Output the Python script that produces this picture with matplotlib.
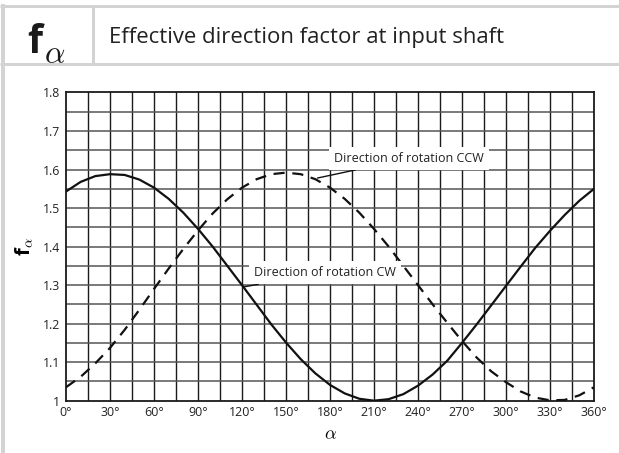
import numpy as np
import matplotlib
matplotlib.use('Agg')
import matplotlib.pyplot as plt
from matplotlib.lines import Line2D

plt.rcParams['font.family'] = ['Open Sans', 'DejaVu Sans']
plt.rcParams['mathtext.fontset'] = 'cm'

# angle in degrees
alpha = [0, 10, 20, 30, 40, 50, 60, 70, 80, 90, 100, 110, 120, 130, 140, 150, 160, 170, 180,
         190, 200, 210, 220, 230, 240, 250, 260, 270, 280, 290, 300, 310, 320, 330, 340, 350, 360]
# direction of rotation CW (solid)
f_cw = [1.543, 1.568, 1.583, 1.588, 1.586, 1.574, 1.553, 1.524, 1.488, 1.446, 1.400, 1.350, 1.300,
        1.249, 1.198, 1.151, 1.108, 1.071, 1.041, 1.019, 1.005, 1.000, 1.004, 1.017, 1.039, 1.068,
        1.104, 1.150, 1.198, 1.248, 1.298, 1.348, 1.397, 1.441, 1.482, 1.519, 1.550]
# direction of rotation CCW (dashed)
f_ccw = [1.035, 1.062, 1.097, 1.137, 1.184, 1.236, 1.290, 1.343, 1.394, 1.442, 1.486, 1.523, 1.553,
         1.575, 1.588, 1.592, 1.588, 1.575, 1.553, 1.524, 1.488, 1.446, 1.400, 1.350, 1.300, 1.250,
         1.202, 1.155, 1.112, 1.076, 1.048, 1.024, 1.008, 1.001, 1.002, 1.014, 1.035]

xticks = list(range(0, 361, 30))
xtick_labels = [f'{t}°' for t in xticks]
yticks = [1.0, 1.1, 1.2, 1.3, 1.4, 1.5, 1.6, 1.7, 1.8]
ytick_labels = ['1', '1.1', '1.2', '1.3', '1.4', '1.5', '1.6', '1.7', '1.8']

W, H = 619, 453
fig = plt.figure(figsize=(W / 100, H / 100), dpi=100)


def px(x, y):
    return x / W, 1 - y / H


# frame / header in light grey
grey = '#d3d3d3'
for (x0, y0, x1, y1, lw) in [(0, 5.5, W, 5.5, 3), (0, 64, W, 64, 3),
                             (92.5, 5, 92.5, 64, 3), (3, 4, 3, H, 4)]:
    a, b = px(x0, y0)
    c, d = px(x1, y1)
    fig.add_artist(Line2D([a, c], [b, d], color=grey, lw=lw * 0.72, solid_capstyle='butt'))

fig.text(*px(27, 53), 'f', fontsize=28, fontweight='bold', color='#1a1a1a', va='baseline', ha='left')
fig.text(*px(44, 63), r'$\alpha$', fontsize=23, color='#1a1a1a', va='baseline', ha='left')
fig.text(*px(109, 37), 'Effective direction factor at input shaft', fontsize=15.9,
         color='#222222', va='center', ha='left')

ax = fig.add_axes([66 / W, 1 - 400.7 / H, 528 / W, 308.2 / H])
ax.set_xlim(0, 360)
ax.set_ylim(1.0, 1.8)

# grid
for v in np.arange(15, 360, 15):
    ax.axvline(v, color='#1a1a1a', lw=1.0, zorder=1)
for v in np.arange(1.05, 1.8, 0.05):
    ax.axhline(v, color='#555555', lw=1.1, zorder=1)

ax.plot(alpha, f_cw, color='#111111', lw=1.6, zorder=3)
ax.plot(alpha, f_ccw, color='#111111', lw=1.6, ls=(0, (5, 3.5)), zorder=3)

ax.set_xticks(xticks)
ax.set_xticklabels(xtick_labels, fontsize=9, color='#222222')
ax.set_yticks(yticks)
ax.set_yticklabels(ytick_labels, fontsize=8.8, color='#222222')
ax.tick_params(length=0, pad=4)
for s in ax.spines.values():
    s.set_color('#1a1a1a')
    s.set_linewidth(1.3)

ax.set_xlabel(r'$\alpha$', fontsize=13, labelpad=4)
ax.set_ylabel(r'f$_{\alpha}$', fontsize=14.5, fontweight='bold', labelpad=6)

# labels with white boxes and short leaders
ax.annotate('Direction of rotation CCW', xy=(171.5, 1.578), xytext=(183, 1.612),
            fontsize=9, color='#222222', ha='left', va='bottom',
            bbox=dict(boxstyle='square,pad=0.4', fc='white', ec='none'),
            arrowprops=dict(arrowstyle='-', color='#111111', lw=1.0, shrinkA=0, shrinkB=0),
            zorder=4)
ax.annotate('Direction of rotation CW', xy=(120.5, 1.295), xytext=(128, 1.315),
            fontsize=9, color='#222222', ha='left', va='bottom',
            bbox=dict(boxstyle='square,pad=0.4', fc='white', ec='none'),
            arrowprops=dict(arrowstyle='-', color='#111111', lw=1.0, shrinkA=0, shrinkB=0),
            zorder=4)

fig.savefig('out.png', dpi=100, facecolor='white')
